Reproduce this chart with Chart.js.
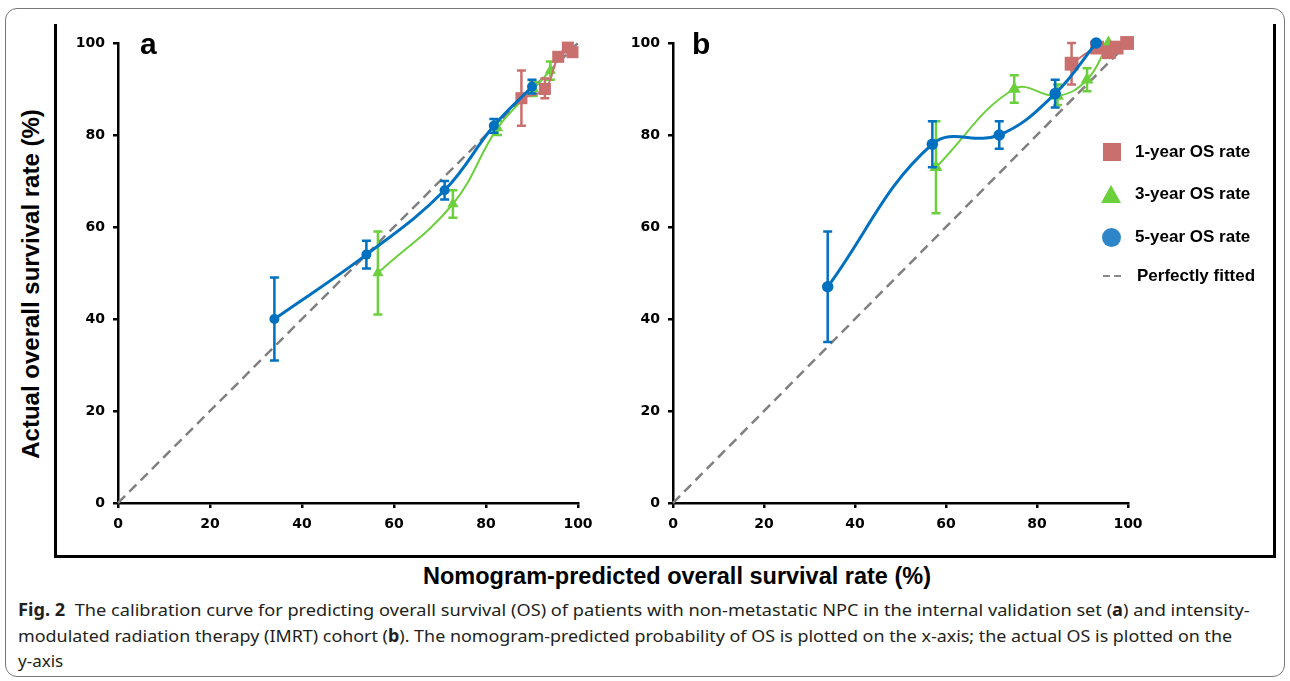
<!DOCTYPE html>
<html>
<head>
<meta charset="utf-8">
<script src="https://cdn.jsdelivr.net/npm/chart.js@4.4.0/dist/chart.umd.min.js"></script>
<style>
  body { margin: 0; width: 1290px; height: 681px; background: #fff; position: relative; overflow: hidden;
         font-family: "Liberation Sans", Arial, sans-serif; }
  .frame { position: absolute; left: 5px; top: 8px; width: 1278px; height: 667px; border: 1px solid #777; border-radius: 12px; }
  .box { position: absolute; left: 54px; top: 24px; width: 1216px; height: 531px; border: 3px solid #000; border-top: none; }
  canvas { position: absolute; }
  .tag { position: absolute; font-weight: bold; font-size: 30px; line-height: 30px; }
  .ytitle { position: absolute; left: 31px; top: 284px; transform: translate(-50%, -50%) rotate(-90deg);
            font-weight: bold; font-size: 24px; white-space: nowrap; }
  .xtitle { position: absolute; left: 677px; top: 576px; transform: translate(-50%, -50%);
            font-weight: bold; font-size: 23.5px; white-space: nowrap; }
  .leg { position: absolute; font-weight: bold; font-size: 17px; line-height: 20px; white-space: nowrap; }
  .cap { position: absolute; left: 18px; font-family: "Noto Sans", sans-serif; font-size: 17px; line-height: 26px;
         color: #231f20; white-space: nowrap; transform-origin: 0 50%; }
</style>
</head>
<body>
<div class="frame"></div>
<div class="box"></div>
<canvas id="chartA" width="580" height="525" style="left:60px;top:25px;width:580px;height:525px"></canvas>
<canvas id="chartB" width="650" height="525" style="left:612px;top:25px;width:650px;height:525px"></canvas>
<div class="tag" style="left:140px;top:29px">a</div>
<div class="tag" style="left:692px;top:29px">b</div>
<div class="ytitle">Actual overall survival rate (%)</div>
<div class="xtitle">Nomogram-predicted overall survival rate (%)</div>

<div style="position:absolute;left:1103px;top:143px;width:18px;height:18px;background:#C9706E"></div>
<div class="leg" style="left:1135px;top:142px">1-year OS rate</div>
<div style="position:absolute;left:1101px;top:185px;width:0;height:0;border-left:10px solid transparent;border-right:10px solid transparent;border-bottom:18px solid #6CCF3C"></div>
<div class="leg" style="left:1135px;top:184px">3-year OS rate</div>
<div style="position:absolute;left:1102px;top:228px;width:19px;height:19px;border-radius:50%;background:#2E86C8"></div>
<div class="leg" style="left:1135px;top:227px">5-year OS rate</div>
<div style="position:absolute;left:1103px;top:275px;width:7px;height:2px;background:#8a8a8a"></div>
<div style="position:absolute;left:1114px;top:275px;width:7px;height:2px;background:#8a8a8a"></div>
<div class="leg" style="left:1137px;top:266px">Perfectly fitted</div>

<div class="cap" id="cap1" style="top:597px"><b>Fig. 2</b>&nbsp; The calibration curve for predicting overall survival (OS) of patients with non-metastatic NPC in the internal validation set (<b>a</b>) and intensity-</div>
<div class="cap" id="cap2" style="top:623px">modulated radiation therapy (IMRT) cohort (<b>b</b>). The nomogram-predicted probability of OS is plotted on the x-axis; the actual OS is plotted on the</div>
<div class="cap" id="cap3" style="top:648px">y-axis</div>

<script>
const tickValues = [0, 20, 40, 60, 80, 100];
const diagonal = [0, 100];

// panel a: internal validation set
const aOneX = [87.7, 92.8, 95.7, 97.8, 98.8];
const aOneY = [88, 90, 97, 99, 98];
const aOneLo = [82, 88, null, null, null];
const aOneHi = [94, 92.3, null, null, null];

const aThreeX = [56.5, 72.8, 82.5, 90.3, 94];
const aThreeY = [50, 65, 81.5, 90, 94];
const aThreeLo = [41, 62, 80, 88.5, 92];
const aThreeHi = [59, 68, 83, 91.5, 96];

const aFiveX = [34, 54, 71, 81.7, 90];
const aFiveY = [40, 54, 68, 82, 90.5];
const aFiveLo = [31, 51, 66, 80.5, 89];
const aFiveHi = [49, 57, 70, 83.5, 92];

// panel b: IMRT cohort
const bOneX = [87.6, 93.2, 95.8, 97.5, 99.8];
const bOneY = [95.5, 99, 98, 99, 100];
const bOneLo = [91, null, null, null, null];
const bOneHi = [100, null, null, null, null];

const bThreeX = [57.8, 75, 84.5, 91, 95.7];
const bThreeY = [73, 90, 88.5, 92, 100];
const bThreeLo = [63, 87, 86.5, 89.5, null];
const bThreeHi = [83, 93, 91, 94.5, null];

const bFiveX = [34, 57, 71.7, 84, 93];
const bFiveY = [47, 78, 80, 89, 100];
const bFiveLo = [35, 73, 77, 86, null];
const bFiveHi = [59, 83, 83, 92, null];

const red = "#C9706E", green = "#6CCF3C", blue = "#0070C0", grey = "#808080";

const pts = (xs, ys) => xs.map((x, i) => ({ x: x, y: ys[i] }));

// vertical error bars, drawn right after their own dataset
const errorBars = {
  id: "errorBars",
  afterDatasetDraw(chart, args) {
    const ds = chart.data.datasets[args.index];
    if (!ds.errLo) return;
    const ctx = chart.ctx, xs = chart.scales.x, ys = chart.scales.y;
    ctx.save();
    ctx.strokeStyle = ds.borderColor;
    ctx.lineWidth = 2.5;
    ds.data.forEach((p, i) => {
      const lo = ds.errLo[i], hi = ds.errHi[i];
      if (lo == null) return;
      const px = xs.getPixelForValue(p.x);
      const y1 = ys.getPixelForValue(lo), y2 = ys.getPixelForValue(hi);
      ctx.beginPath();
      ctx.moveTo(px, y1); ctx.lineTo(px, y2);
      ctx.moveTo(px - 4.5, y1); ctx.lineTo(px + 4.5, y1);
      ctx.moveTo(px - 4.5, y2); ctx.lineTo(px + 4.5, y2);
      ctx.stroke();
    });
    ctx.restore();
  }
};

function series(label, xs, ys, lo, hi, color, style, radius, width) {
  return {
    label: label, data: pts(xs, ys), errLo: lo, errHi: hi,
    showLine: true, borderColor: color, backgroundColor: color, borderWidth: width,
    pointStyle: style, pointRadius: radius, pointBorderWidth: 0, tension: 0.4, clip: false
  };
}

function axis(size) {
  return {
    type: "linear", min: 0, max: 100,
    afterBuildTicks: (s) => { s.ticks = tickValues.map((v) => ({ value: v })); },
    afterFit: (s) => { if (s.isHorizontal()) s.height = size; else s.width = size; },
    border: { display: true, color: "#000", width: 2.5 },
    grid: { display: true, drawOnChartArea: false, drawTicks: true, tickLength: 5, color: "#000", lineWidth: 2.5 },
    ticks: { color: "#000", padding: 8, font: { family: "DejaVu Sans", weight: "bold", size: 14 } }
  };
}

function makePanel(id, one, three, five, yWidth, padRight, big) {
  const r = big ? 1.15 : 1;
  new Chart(document.getElementById(id), {
    type: "scatter",
    data: {
      datasets: [
        series("5-year OS rate", five[0], five[1], five[2], five[3], blue, "circle", 5 * r, 3),
        series("1-year OS rate", one[0], one[1], one[2], one[3], red, "rect", 8.5 * r, 2),
        series("3-year OS rate", three[0], three[1], three[2], three[3], green, "triangle", 6.5 * r, 2),
        {
          label: "Perfectly fitted", data: pts(diagonal, diagonal), showLine: true,
          borderColor: grey, borderWidth: 2.5, borderDash: [10, 6], pointRadius: 0, clip: false
        }
      ]
    },
    options: {
      responsive: false, animation: false,
      layout: { padding: { top: 18, right: padRight, left: 0, bottom: 0 } },
      plugins: { legend: { display: false }, tooltip: { enabled: false } },
      scales: { x: axis(47), y: axis(yWidth) }
    },
    plugins: [errorBars]
  });
}

makePanel("chartA",
  [aOneX, aOneY, aOneLo, aOneHi],
  [aThreeX, aThreeY, aThreeLo, aThreeHi],
  [aFiveX, aFiveY, aFiveLo, aFiveHi], 58, 62, false);

makePanel("chartB",
  [bOneX, bOneY, bOneLo, bOneHi],
  [bThreeX, bThreeY, bThreeLo, bThreeHi],
  [bFiveX, bFiveY, bFiveLo, bFiveHi], 61, 134, true);

// squeeze caption lines to the width they take in the figure
[["cap1", 1232], ["cap2", 1214]].forEach(([id, w]) => {
  const el = document.getElementById(id);
  el.style.transform = "scaleX(" + (w / el.scrollWidth) + ")";
});
</script>
</body>
</html>
